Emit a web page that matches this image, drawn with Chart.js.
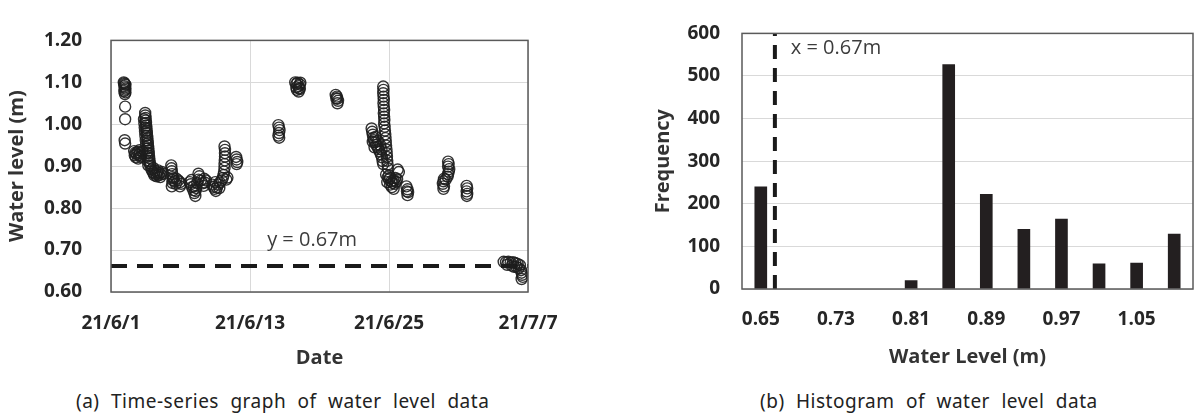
<!DOCTYPE html>
<html lang="en">
<head>
<meta charset="UTF-8">
<title>Water level data</title>
<style>
  body {
    margin: 0;
    background: #fff;
    width: 1194px;
    height: 413px;
    position: relative;
    overflow: hidden;
  }
  canvas { position: absolute; top: 0; }
  #levelChart { left: 0; }
  #histChart { left: 640px; }
  .caption {
    position: absolute;
    top: 389px;
    line-height: 24px;
    font-family: "Noto Sans", sans-serif;
    font-size: 19px;
    color: #222;
    letter-spacing: 0.5px;
    word-spacing: 6px;
    white-space: nowrap;
  }
  #capA { left: 76px; }
  #capB { left: 760px; }
</style>
</head>
<body>
  <canvas id="levelChart" width="600" height="380"></canvas>
  <canvas id="histChart" width="554" height="380"></canvas>
  <div class="caption" id="capA">(a) Time-series graph of water level data</div>
  <div class="caption" id="capB">(b) Histogram of water level data</div>

<script src="https://cdn.jsdelivr.net/npm/chart.js"></script>
<script>
  // (a) time series: day offset from 21/6/1, water level (m)
  const dateTicks = ['21/6/1', '21/6/13', '21/6/25', '21/7/7'];
  const dateTickDays = [0, 12, 24, 36];
  const levelObs = [
    // early June
    [1.10,1.100],[1.15,1.098],[1.20,1.096],[1.25,1.094],[1.15,1.091],[1.20,1.088],[1.25,1.085],
    [1.20,1.082],[1.15,1.079],[1.25,1.076],[1.20,1.072],[1.22,1.042],[1.22,1.012],[1.18,0.962],[1.22,0.954],
    [2.00,0.936],[2.10,0.932],[2.20,0.929],[2.30,0.934],[2.40,0.927],[2.50,0.931],[2.60,0.925],
    [2.15,0.921],[2.35,0.918],[2.55,0.922],[2.70,0.935],[2.05,0.926],[2.45,0.938],
    [2.95,1.027],[2.96,1.021],[2.98,1.015],[3.00,1.009],[3.02,1.003],[3.04,0.997],[3.06,0.991],
    [3.08,0.985],[3.10,0.979],[3.12,0.973],[3.14,0.967],[3.16,0.961],[3.18,0.955],[3.20,0.949],
    [3.22,0.943],[3.24,0.937],[3.26,0.931],[3.28,0.925],[3.30,0.919],[3.33,0.913],[3.36,0.907],[3.40,0.901],
    [2.85,1.012],[2.88,1.002],[2.91,0.992],[2.94,0.982],[2.97,0.972],[3.00,0.962],[3.03,0.952],
    [3.06,0.942],[3.10,0.932],[3.14,0.922],[3.18,0.912],[3.22,0.902],
    [3.50,0.892],[3.60,0.886],[3.70,0.883],[3.80,0.889],[3.90,0.881],[4.00,0.885],[4.10,0.879],
    [4.20,0.884],[4.30,0.880],[4.40,0.886],[3.65,0.896],[3.95,0.876],[4.25,0.874],[4.50,0.882],
    [3.75,0.878],[4.05,0.890],
    [5.20,0.902],[5.22,0.895],[5.25,0.888],[5.28,0.881],[5.30,0.874],[5.32,0.867],[5.30,0.860],
    [5.25,0.852],[5.50,0.864],[5.65,0.870],[5.80,0.866],[5.95,0.862],[6.05,0.858],[5.95,0.852],
    [5.60,0.858],[5.40,0.871],
    [6.80,0.862],[6.90,0.857],[7.00,0.850],[7.10,0.843],[7.20,0.836],[7.28,0.829],[7.35,0.848],
    [7.45,0.860],[7.55,0.868],[7.62,0.876],[7.55,0.882],[7.75,0.866],[7.90,0.859],[8.00,0.853],
    [8.10,0.861],[8.20,0.866],[7.15,0.852],[7.30,0.841],[6.95,0.867],[8.05,0.870],
    [8.75,0.856],[8.85,0.851],[8.95,0.846],[9.05,0.841],[9.15,0.849],[9.25,0.856],[9.40,0.861],
    [9.55,0.866],[9.65,0.872],[9.72,0.879],[9.76,0.887],[9.80,0.896],[9.80,0.905],[9.82,0.914],
    [9.84,0.923],[9.84,0.931],[9.84,0.939],[9.80,0.947],[9.95,0.868],[10.05,0.873],[9.00,0.862],[9.35,0.848],
    [10.80,0.922],[10.85,0.916],[10.90,0.910],[10.85,0.905],
    // mid June
    [14.45,0.998],[14.50,0.992],[14.55,0.986],[14.50,0.979],[14.45,0.973],[14.52,0.968],
    [15.90,1.100],[16.00,1.096],[16.10,1.099],[16.20,1.091],[16.25,1.086],[16.05,1.082],
    [16.30,1.095],[16.35,1.099],[16.20,1.078],[16.00,1.088],[16.30,1.084],
    [19.40,1.070],[19.50,1.066],[19.55,1.061],[19.60,1.056],[19.55,1.050],[19.45,1.062],
    // late June
    [22.50,0.990],[22.55,0.982],[22.60,0.975],[22.65,0.968],[22.70,0.962],[22.80,0.957],[22.90,0.951],
    [23.00,0.946],[23.10,0.941],[23.20,0.935],[23.30,0.928],[23.40,0.921],[23.45,0.912],[23.50,0.905],
    [22.60,0.958],[22.85,0.970],[23.05,0.960],[23.25,0.950],[22.75,0.945],[23.35,0.940],
    [23.50,1.090],[23.52,1.082],[23.50,1.074],[23.53,1.066],[23.55,1.058],[23.52,1.050],[23.55,1.042],
    [23.58,1.034],[23.55,1.026],[23.58,1.018],[23.60,1.010],[23.58,1.002],[23.62,0.994],[23.65,0.985],
    [23.68,0.976],[23.70,0.967],[23.72,0.958],[23.75,0.949],[23.78,0.940],[23.80,0.931],[23.82,0.922],
    [23.85,0.913],[23.88,0.904],[23.90,0.895],
    [23.75,0.880],[23.90,0.874],[24.00,0.868],[24.10,0.872],[24.20,0.864],[24.30,0.860],[24.40,0.866],
    [24.50,0.858],[24.60,0.863],[24.70,0.869],[24.10,0.856],[24.25,0.850],[24.40,0.846],[24.00,0.878],
    [23.85,0.862],[24.55,0.872],[24.75,0.892],[24.85,0.886],
    [25.50,0.852],[25.60,0.845],[25.65,0.838],[25.60,0.831],[25.55,0.840],
    [29.10,0.911],[29.15,0.905],[29.10,0.899],[29.20,0.893],[29.15,0.887],[29.10,0.881],[29.05,0.875],
    [28.75,0.870],[28.70,0.864],[28.65,0.858],[28.75,0.852],[28.70,0.846],[28.90,0.868],
    [30.70,0.853],[30.75,0.847],[30.70,0.840],[30.75,0.834],[30.72,0.829],
    // early July
    [33.90,0.672],[34.10,0.671],[34.30,0.672],[34.50,0.670],[34.70,0.671],[34.90,0.669],[35.10,0.667],
    [35.30,0.664],[34.60,0.663],[34.80,0.660],[35.20,0.657],[35.40,0.652],[35.45,0.646],[35.50,0.641],
    [35.55,0.636],[35.45,0.631],[34.20,0.665],[35.00,0.660]
  ];
  const refLevel = 0.662;
  const refLevelDays = [0, 36];

  // (b) histogram
  const histBins = [0.65, 0.69, 0.73, 0.77, 0.81, 0.85, 0.89, 0.93, 0.97, 1.01, 1.05, 1.09];
  const histCounts = [240, 0, 0, 0, 20, 527, 222, 140, 164, 59, 61, 129];
  const histTicks = [0.65, 0.73, 0.81, 0.89, 0.97, 1.05];
  const refBin = 0.665;
  const refFreq = [0, 600];

  const tickFont = { family: 'Open Sans', size: 19, weight: 'bold' };
  const titleFont = { family: 'Open Sans', size: 20, weight: 'bold' };

  // box around the plot area
  const frame = {
    id: 'frame',
    afterDatasetsDraw(chart) {
      const { ctx, chartArea: a } = chart;
      ctx.save();
      ctx.strokeStyle = '#5a5a5a';
      ctx.lineWidth = 1.5;
      ctx.strokeRect(a.left, a.top, a.right - a.left, a.bottom - a.top);
      ctx.restore();
    }
  };

  // text note placed at data coordinates
  const note = {
    id: 'note',
    afterDraw(chart, args, opts) {
      const { ctx, scales } = chart;
      ctx.save();
      ctx.font = '20px "Open Sans"';
      ctx.fillStyle = '#3c3c3c';
      ctx.textAlign = 'center';
      ctx.textBaseline = 'middle';
      ctx.fillText(opts.text, scales.x.getPixelForValue(opts.x), scales.y.getPixelForValue(opts.y));
      ctx.restore();
    }
  };

  new Chart(document.getElementById('levelChart'), {
    type: 'scatter',
    data: {
      datasets: [
        {
          data: levelObs.map(p => ({ x: p[0], y: p[1] })),
          pointRadius: 5.5,
          borderWidth: 1.4,
          borderColor: 'rgba(30,30,30,0.9)',
          backgroundColor: 'rgba(0,0,0,0)',
          order: 1
        },
        {
          type: 'line',
          data: refLevelDays.map(d => ({ x: d, y: refLevel })),
          borderColor: '#1a1a1a',
          borderWidth: 4,
          borderDash: [16, 10],
          pointRadius: 0,
          order: 2
        }
      ]
    },
    options: {
      responsive: false,
      animation: false,
      layout: { padding: { top: 22, right: 72, bottom: 0, left: 0 } },
      plugins: {
        legend: { display: false },
        tooltip: { enabled: false },
        note: { text: 'y = 0.67m', x: 17.36, y: 0.724 }
      },
      scales: {
        x: {
          type: 'linear',
          min: 0,
          max: 36,
          afterBuildTicks: s => { s.ticks = dateTickDays.map(v => ({ value: v })); },
          afterFit: s => { s.height = 88; },
          ticks: {
            padding: 20,
            color: '#262626',
            font: tickFont,
            maxRotation: 0,
            autoSkip: false,
            callback: (v, i) => dateTicks[i]
          },
          grid: { color: '#d9d9d9', drawTicks: false },
          border: { display: false },
          title: { display: true, text: 'Date', color: '#333', font: titleFont, padding: { top: 0, bottom: 10 } }
        },
        y: {
          min: 0.6,
          max: 1.2,
          afterFit: s => { s.width = 111; },
          ticks: {
            stepSize: 0.1,
            padding: 29,
            color: '#262626',
            font: tickFont,
            callback: v => v.toFixed(2)
          },
          grid: { color: '#d9d9d9', drawTicks: false },
          border: { display: false },
          title: { display: true, text: 'Water level (m)', color: '#333', font: titleFont, padding: { top: 5, bottom: 0 } }
        }
      }
    },
    plugins: [frame, note]
  });

  new Chart(document.getElementById('histChart'), {
    type: 'bar',
    data: {
      datasets: [
        {
          data: histBins.map((b, i) => ({ x: b, y: histCounts[i] })),
          // empty bins get no colour so nothing shows at the baseline
          backgroundColor: c => (c.raw && c.raw.y > 0 ? '#231f20' : 'rgba(0,0,0,0)'),
          barThickness: 12,
          order: 2
        },
        {
          type: 'line',
          data: refFreq.map(f => ({ x: refBin, y: f })),
          borderColor: '#1a1a1a',
          borderWidth: 4,
          borderDash: [14, 9],
          pointRadius: 0,
          order: 1
        }
      ]
    },
    options: {
      responsive: false,
      animation: false,
      layout: { padding: { top: 22, right: 1, bottom: 0, left: 0 } },
      plugins: {
        legend: { display: false },
        tooltip: { enabled: false },
        note: { text: 'x = 0.67m', x: 0.73, y: 564 }
      },
      scales: {
        x: {
          type: 'linear',
          min: 0.63,
          max: 1.11,
          offset: false,
          afterBuildTicks: s => { s.ticks = histTicks.map(v => ({ value: v })); },
          afterFit: s => { s.height = 91; },
          ticks: {
            padding: 19,
            color: '#262626',
            font: tickFont,
            maxRotation: 0,
            autoSkip: false,
            callback: v => v.toFixed(2)
          },
          grid: { display: false, drawTicks: false },
          border: { display: false },
          title: { display: true, text: 'Water Level (m)', color: '#333', font: titleFont, padding: { top: 0, bottom: 11 } }
        },
        y: {
          min: 0,
          max: 600,
          afterFit: s => { s.width = 102; },
          ticks: { stepSize: 100, padding: 22, color: '#262626', font: tickFont },
          grid: { color: '#d9d9d9', drawTicks: false },
          border: { display: false },
          title: { display: true, text: 'Frequency', color: '#333', font: titleFont, padding: { top: 11, bottom: 0 } }
        }
      }
    },
    plugins: [frame, note]
  });
</script>
</body>
</html>
